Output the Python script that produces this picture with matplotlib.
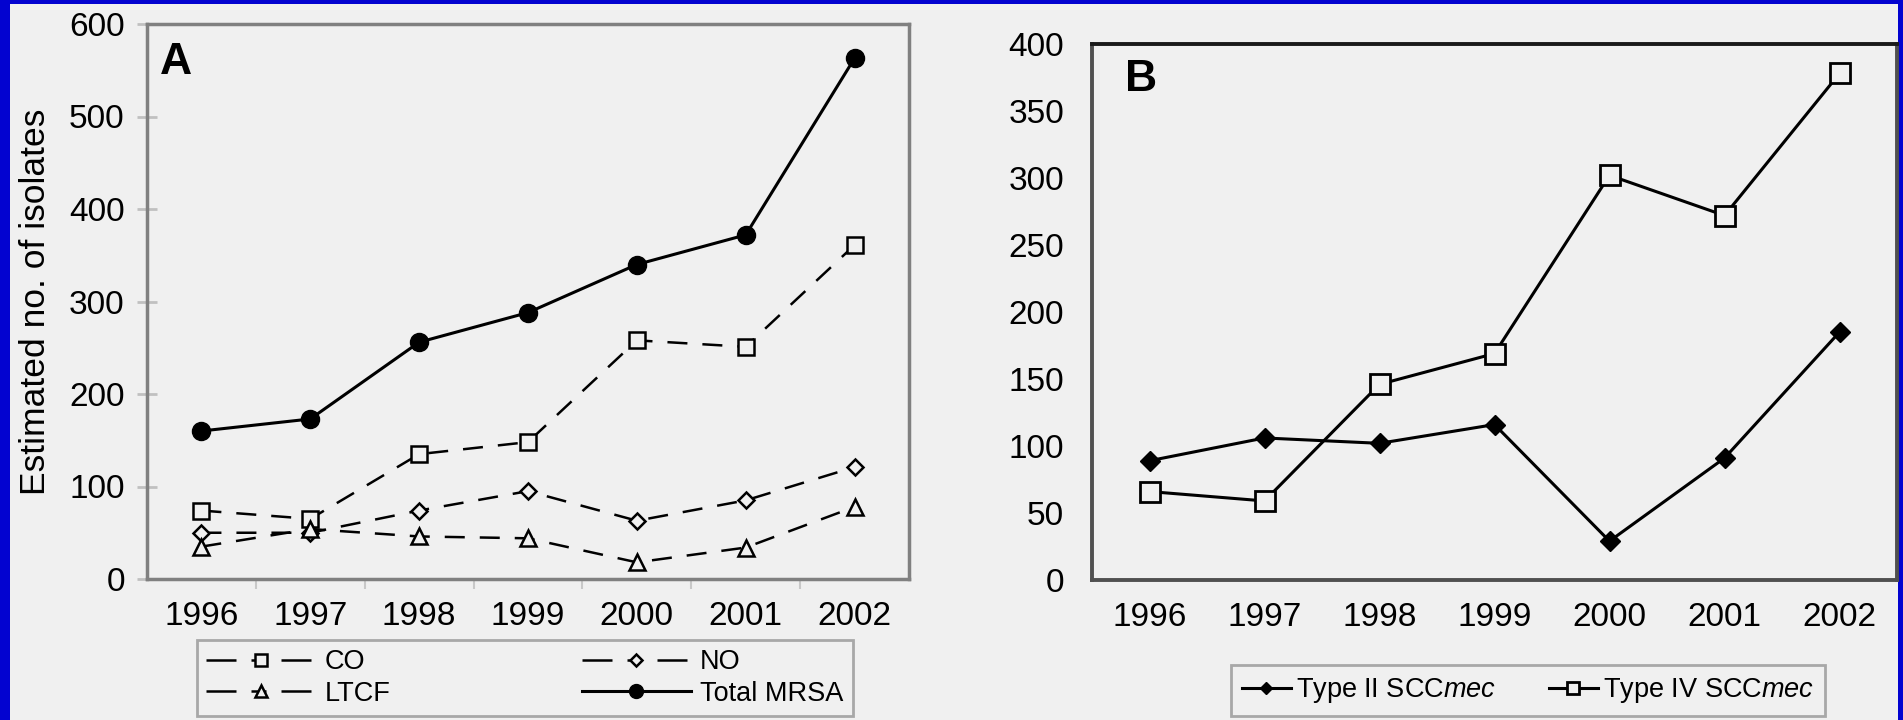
import matplotlib
matplotlib.use('Agg')
import matplotlib.pyplot as plt
from matplotlib.patches import Rectangle
from matplotlib.lines import Line2D

years = ['1996', '1997', '1998', '1999', '2000', '2001', '2002']

# panel A
total_mrsa = [160, 173, 256, 288, 340, 372, 563]
co = [74, 65, 135, 148, 258, 251, 361]
no = [50, 50, 74, 95, 63, 85, 121]
ltcf = [35, 54, 46, 44, 18, 34, 78]

# panel B
type2 = [89, 106, 102, 116, 29, 91, 185]
type4 = [66, 59, 146, 169, 302, 272, 378]

plt.rcParams['font.family'] = ['Liberation Sans', 'DejaVu Sans']
plt.rcParams['mathtext.fontset'] = 'custom'
plt.rcParams['mathtext.rm'] = 'Liberation Sans'
plt.rcParams['mathtext.it'] = 'Liberation Sans:italic'

bg = '#f0f0f0'
fig = plt.figure(figsize=(19.03, 7.2), dpi=100)
fig.patch.set_facecolor('#0303d0')
fig.add_artist(Rectangle((10 / 1903, 0), 1888 / 1903, 716 / 720, transform=fig.transFigure,
                         facecolor=bg, edgecolor='none', zorder=0))

x = list(range(len(years)))
dash = (0, (8, 6))
leg_dash = (0, (12, 6, 6, 6))  # "— □ —" look in the legend

# ---- panel A
ax1 = fig.add_axes([147 / 1903, 141 / 720, 762 / 1903, 555 / 720])
ax1.set_facecolor(bg)
styles = {
    'CO': dict(marker='s', ms=11.5),
    'NO': dict(marker='D', ms=8.5),
    'LTCF': dict(marker='^', ms=12),
}
for vals, name in [(co, 'CO'), (no, 'NO'), (ltcf, 'LTCF')]:
    ax1.plot(x, vals, color='black', lw=1.8, linestyle=dash, mfc=bg, mec='black', mew=1.8,
             **styles[name])
ax1.plot(x, total_mrsa, color='black', lw=2.2, marker='o', ms=13, mfc='black', mec='black')

handles = {}
for name in ['CO', 'NO', 'LTCF']:
    handles[name] = Line2D([], [], color='black', lw=1.8, linestyle=leg_dash, mfc=bg, mec='black',
                           mew=1.8, marker=styles[name]['marker'], ms=styles[name]['ms'] * 0.75)
handles['Total MRSA'] = Line2D([], [], color='black', lw=2.2, marker='o', ms=10, mfc='black', mec='black')

ax1.set_xlim(-0.5, 6.5)
ax1.set_ylim(0, 600)
ax1.set_yticks(range(0, 601, 100))
ax1.set_xticks(x)
ax1.set_xticklabels(years)
ax1.set_xticks([i + 0.5 for i in range(6)], minor=True)
ax1.tick_params(axis='x', which='major', length=0, labelsize=24, pad=16)
ax1.tick_params(axis='x', which='minor', length=7, width=1.5, color='#c8c8c8', direction='out')
ax1.tick_params(axis='y', length=14, width=2, color='#c0c0c0', direction='inout', labelsize=24, pad=9)
for s in ax1.spines.values():
    s.set_color('#808080')
    s.set_linewidth(2.5)
ax1.set_ylabel('Estimated no. of isolates', fontsize=25.5, labelpad=12)
ax1.text(0.038, 0.93, 'A', transform=ax1.transAxes, fontsize=32, fontweight='bold',
         ha='center', va='center')

order = ['CO', 'LTCF', 'NO', 'Total MRSA']
leg1 = fig.legend([handles[k] for k in order], order, ncol=2,
                  loc='lower left', bbox_to_anchor=(197 / 1903, 4 / 720, 656 / 1903, 78 / 720),
                  mode='expand', fontsize=19.5, handlelength=4.0, handletextpad=0.35,
                  borderaxespad=0, labelspacing=0.2, borderpad=0.35,
                  fancybox=False, facecolor=bg, edgecolor='#a8a8a8', framealpha=1)
leg1.get_frame().set_linewidth(2)

# ---- panel B
ax2 = fig.add_axes([1092 / 1903, 140 / 720, 805 / 1903, 536 / 720])
ax2.set_facecolor(bg)
l_t2, = ax2.plot(x, type2, color='black', lw=2.2, marker='D', ms=10, mfc='black', mec='black',
                 label='Type II SCC$\\mathit{mec}$')
l_t4, = ax2.plot(x, type4, color='black', lw=2.2, marker='s', ms=14, mfc=bg, mec='black', mew=2,
                 label='Type IV SCC$\\mathit{mec}$')
ax2.set_xlim(-0.5, 6.5)
ax2.set_ylim(0, 400)
ax2.set_yticks(range(0, 401, 50))
ax2.set_xticks(x)
ax2.set_xticklabels(years)
ax2.tick_params(axis='both', length=0, labelsize=24)
ax2.tick_params(axis='x', pad=16)
ax2.tick_params(axis='y', pad=20)
for s in ax2.spines.values():
    s.set_color('#505050')
    s.set_linewidth(2.8)
ax2.spines['top'].set_color('#1a1a1a')
ax2.text(0.061, 0.933, 'B', transform=ax2.transAxes, fontsize=32, fontweight='bold',
         ha='center', va='center')

leg2 = fig.legend([l_t2, l_t4], [l_t2.get_label(), l_t4.get_label()], ncol=2,
                  loc='lower left', bbox_to_anchor=(1231 / 1903, 4 / 720, 594 / 1903, 55 / 720),
                  mode='expand', fontsize=19.5, handlelength=1.8, handletextpad=0.2,
                  borderaxespad=0, borderpad=0.4, columnspacing=0.7, markerscale=0.6,
                  fancybox=False, facecolor=bg, edgecolor='#a8a8a8', framealpha=1)
leg2.get_frame().set_linewidth(2)

fig.savefig('out.png', dpi=100, facecolor=fig.get_facecolor())
